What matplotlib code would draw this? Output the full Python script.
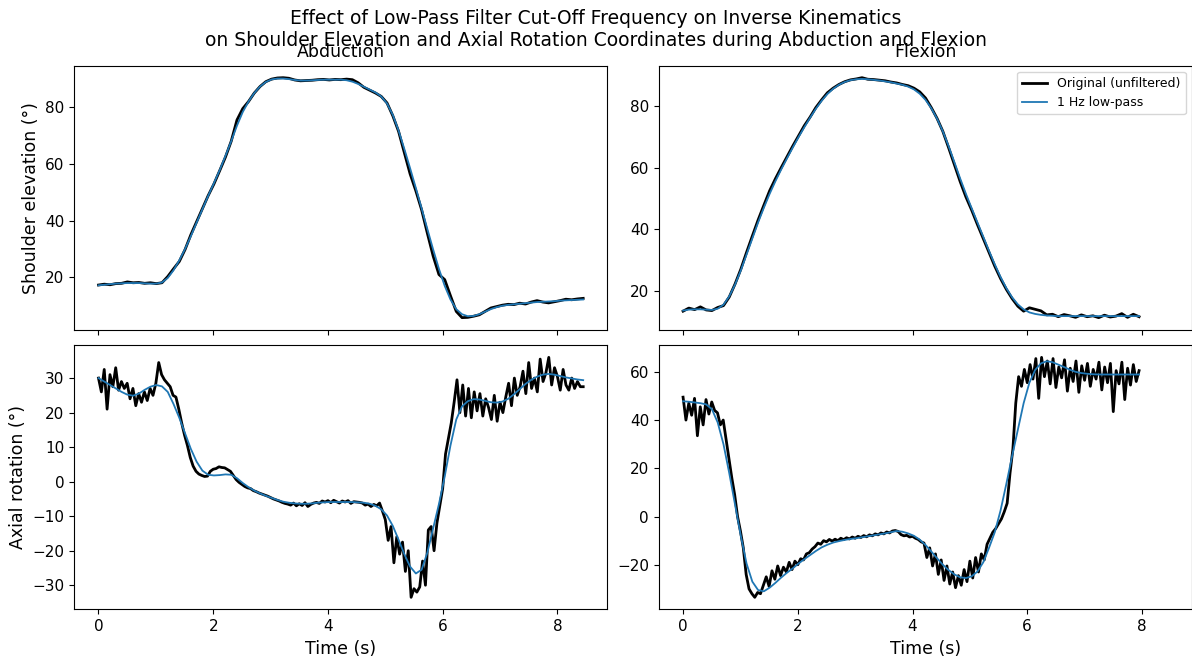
import numpy as np
from matplotlib import pyplot as plt

# abduction: shoulder elevation (deg), raw at ~10 Hz, filtered at ~10 Hz
abd_elev_raw = [17.3, 17.6, 17.4, 17.8, 17.9, 18.4, 18.1, 18.2, 17.9, 18.1,
                17.8, 18.1, 20.3, 23.0, 25.6, 29.8, 35.0, 39.6, 44.2, 48.8,
                52.9, 57.6, 62.4, 68.0, 75.5, 79.5, 82.0, 85.0, 87.3, 89.0,
                89.9, 90.3, 90.4, 90.2, 89.6, 89.3, 89.4, 89.5, 89.7, 89.8,
                89.6, 89.8, 89.7, 89.9, 89.7, 88.6, 87.0, 86.0, 85.0, 83.8,
                81.5, 77.0, 71.5, 64.0, 56.5, 50.5, 43.8, 35.5, 27.5, 21.0,
                19.2, 13.5, 8.0, 5.8, 5.9, 6.3, 6.8, 8.0, 9.2, 9.7,
                10.2, 10.5, 10.4, 10.9, 10.6, 11.3, 11.8, 11.3, 11.0, 11.4,
                11.8, 12.3, 12.1, 12.4, 12.6]
abd_elev_filt = [17.2, 17.4, 17.6, 17.8, 17.9, 18.0, 18.0, 18.0, 17.9, 17.8,
                 17.8, 18.2, 19.8, 22.5, 26.0, 30.0, 34.5, 39.3, 44.0, 48.7,
                 53.2, 57.8, 62.8, 68.0, 73.5, 78.3, 82.0, 85.0, 87.3, 88.9,
                 89.8, 90.1, 90.1, 89.9, 89.6, 89.4, 89.4, 89.5, 89.6, 89.7,
                 89.7, 89.7, 89.7, 89.5, 89.0, 88.2, 87.2, 86.2, 85.2, 83.8,
                 81.3, 77.3, 71.8, 65.3, 58.5, 51.5, 44.3, 37.0, 29.8, 23.0,
                 17.0, 12.2, 8.8, 7.0, 6.3, 6.4, 7.0, 7.9, 8.8, 9.5,
                 10.0, 10.3, 10.5, 10.7, 10.9, 11.1, 11.3, 11.4, 11.5, 11.6,
                 11.8, 11.9, 12.0, 12.1, 12.2]

# flexion: shoulder elevation (deg)
flx_elev_raw = [13.4, 14.4, 13.9, 14.8, 13.8, 13.6, 14.6, 15.2, 18.0, 22.2,
                27.0, 32.5, 37.8, 43.0, 47.8, 52.5, 56.4, 60.0, 63.5, 67.0,
                70.3, 73.6, 76.4, 79.5, 82.0, 84.3, 85.8, 87.0, 87.9, 88.5,
                88.8, 89.2, 88.7, 88.6, 88.4, 88.2, 87.8, 87.5, 87.0, 86.6,
                85.8, 84.6, 82.6, 79.5, 76.0, 71.8, 66.5, 61.0, 55.5, 50.5,
                46.2, 41.5, 37.0, 32.5, 28.0, 24.0, 20.5, 17.5, 15.0, 13.4,
                14.5, 14.0, 13.5, 12.2, 12.4, 11.6, 12.3, 11.9, 11.4, 12.2,
                11.6, 11.9, 11.3, 12.1, 11.5, 11.8, 12.6, 11.4, 12.4, 11.6]
flx_elev_filt = [13.6, 13.9, 14.0, 14.0, 13.9, 13.8, 14.2, 15.5, 18.2, 22.0,
                 26.6, 31.8, 37.0, 42.2, 47.0, 51.5, 55.6, 59.4, 63.0, 66.5,
                 69.9, 73.1, 76.2, 79.1, 81.7, 83.9, 85.6, 86.9, 87.8, 88.4,
                 88.7, 88.8, 88.7, 88.5, 88.3, 88.0, 87.7, 87.3, 86.9, 86.3,
                 85.4, 84.0, 82.0, 79.3, 75.9, 71.8, 67.0, 61.8, 56.5, 51.5,
                 46.8, 42.2, 37.6, 33.0, 28.6, 24.5, 20.9, 17.9, 15.6, 14.0,
                 13.0, 12.5, 12.2, 12.0, 11.9, 11.8, 11.8, 11.8, 11.8, 11.8,
                 11.8, 11.8, 11.8, 11.8, 11.8, 11.8, 11.8, 11.8, 11.8, 11.8]

# abduction: axial rotation (deg), raw at 20 Hz, filtered at ~10 Hz
abd_rot_raw = [30.0, 26.0, 32.5, 21.0, 31.0, 27.5, 33.0, 26.5, 29.0, 27.0,
               28.5, 24.0, 27.0, 22.0, 25.5, 23.0, 26.0, 23.5, 27.0, 25.0,
               28.5, 34.5, 31.0, 29.5, 28.5, 27.5, 25.0, 24.5, 21.0, 17.0,
               13.5, 10.5, 7.0, 4.5, 3.0, 2.2, 1.8, 1.5, 1.6, 3.0,
               3.6, 3.8, 4.3, 4.1, 4.0, 3.5, 3.0, 1.8, 0.6, -0.2,
               -0.8, -1.4, -1.8, -2.0, -2.6, -2.9, -3.3, -3.6, -3.9, -4.2,
               -4.6, -5.0, -5.3, -5.6, -6.0, -6.3, -6.5, -6.8, -6.2, -7.0,
               -6.4, -6.9, -6.1, -7.2, -6.6, -6.2, -6.0, -6.3, -5.6, -5.9,
               -5.5, -6.1, -5.4, -5.8, -6.2, -5.6, -5.9, -5.5, -6.3, -5.8,
               -5.9, -6.0, -6.2, -6.8, -6.5, -7.2, -6.6, -7.0, -6.2, -8.5,
               -11.0, -17.0, -13.0, -23.5, -16.0, -21.0, -17.5, -26.0, -20.0, -33.5,
               -31.0, -32.0, -30.5, -23.0, -30.0, -14.0, -13.0, -20.0, -12.0, -7.0,
               -2.0, 8.0, 12.5, 17.0, 23.0, 29.5, 20.0, 28.0, 19.0, 27.0,
               18.5, 26.0, 20.5, 25.5, 19.0, 24.0, 21.5, 18.0, 25.0, 17.5,
               23.0, 20.0, 24.5, 28.5, 22.0, 30.0, 25.0, 27.5, 32.0, 25.5,
               34.5, 27.0, 30.0, 26.0, 35.5, 29.0, 31.5, 36.0, 28.0, 33.0,
               30.5, 26.5, 32.5, 28.0, 26.5, 30.0, 27.0, 29.0, 27.5, 27.5]
abd_rot_filt = [30.0, 29.0, 28.0, 27.0, 26.0, 25.2, 24.9, 25.5, 26.6, 27.5,
                28.0, 27.6, 26.0, 22.5, 18.5, 14.0, 9.5, 5.8, 3.2, 2.0,
                1.8, 1.9, 2.1, 2.0, 1.0, -0.4, -1.6, -2.6, -3.4, -4.1,
                -4.7, -5.3, -5.8, -6.1, -6.3, -6.4, -6.4, -6.3, -6.1, -6.0,
                -5.9, -5.9, -5.9, -5.9, -5.9, -6.0, -6.1, -6.4, -7.0, -8.0,
                -9.8, -12.8, -16.8, -21.0, -24.6, -26.6, -25.5, -20.5, -13.5, -6.5,
                1.5, 10.5, 18.0, 21.8, 23.3, 23.9, 23.8, 23.4, 23.0, 22.9,
                23.2, 24.0, 25.3, 26.8, 28.3, 29.5, 30.4, 31.0, 31.2, 31.0,
                30.6, 30.2, 29.9, 29.6, 29.4]

# flexion: axial rotation (deg)
flx_rot_raw = [49.5, 40.0, 47.0, 42.0, 49.0, 33.5, 45.5, 38.0, 48.5, 42.5,
               47.5, 44.0, 43.0, 38.0, 40.0, 32.0, 24.0, 16.0, 9.0, 0.0,
               -6.0, -13.0, -24.0, -30.0, -32.0, -33.5, -31.5, -32.0, -28.5, -25.0,
               -29.0, -22.5, -26.0, -20.5, -24.5, -21.0, -23.0, -19.0, -22.0, -18.5,
               -20.0, -17.5, -18.0, -15.5, -15.0, -13.5, -12.5, -11.0, -11.5, -10.0,
               -10.5, -9.5, -10.2, -9.4, -10.0, -9.0, -9.6, -8.8, -9.3, -8.5,
               -9.0, -8.2, -8.7, -7.9, -8.4, -7.6, -8.0, -7.2, -7.6, -6.8,
               -7.2, -6.4, -6.8, -6.0, -5.8, -6.2, -7.5, -8.0, -7.8, -8.5,
               -8.2, -9.0, -9.5, -10.5, -11.0, -17.0, -13.0, -20.5, -15.5, -24.0,
               -18.0, -26.5, -20.5, -28.0, -23.0, -29.5, -24.5, -28.5, -22.0, -27.0,
               -18.5, -25.5, -17.0, -23.0, -15.5, -18.0, -11.5, -9.0, -6.5, -5.0,
               -3.0, -1.0, 2.0, 5.5, 18.0, 28.0, 47.0, 58.0, 54.0, 61.0,
               55.5, 63.0, 57.0, 65.5, 49.0, 66.0, 58.0, 64.5, 55.0, 65.5,
               53.5, 62.0, 57.5, 65.0, 52.0, 61.5, 56.0, 64.5, 51.5, 62.5,
               56.5, 63.5, 54.0, 61.0, 57.0, 64.0, 52.5, 62.0, 55.5, 63.5,
               43.5, 60.5, 55.0, 64.0, 48.5, 61.5, 54.5, 63.0, 56.0, 60.5]
flx_rot_filt = [47.8, 47.6, 47.3, 47.0, 46.5, 44.5, 39.0, 30.0, 18.0, 5.0,
                -8.0, -19.5, -27.0, -30.5, -31.0, -29.5, -27.5, -25.3, -23.3, -21.5,
                -19.5, -17.7, -16.0, -14.3, -12.8, -11.7, -10.8, -10.2, -9.7, -9.3,
                -9.0, -8.6, -8.2, -7.8, -7.4, -7.0, -6.5, -6.0, -6.3, -7.0,
                -8.0, -9.6, -11.8, -14.5, -17.3, -20.0, -22.2, -24.0, -25.2, -25.5,
                -24.8, -22.8, -19.0, -13.0, -6.5, 2.5, 13.5, 25.0, 36.0, 47.0,
                55.5, 60.8, 63.5, 64.4, 64.0, 63.0, 62.0, 60.9, 60.0, 59.5,
                59.2, 59.0, 58.9, 58.9, 58.9, 58.9, 58.9, 58.9, 58.9, 58.9]

abd_end = 8.45
flx_end = 7.95

fig, axes = plt.subplots(2, 2, sharex=True, figsize=(11.92, 6.61), dpi=100)
fig.subplots_adjust(left=0.0623, right=1.0, top=0.9006, bottom=0.0782,
                    wspace=0.0964, hspace=0.0596)

panels = [
    (axes[0, 0], abd_elev_raw, abd_elev_filt, abd_end),
    (axes[0, 1], flx_elev_raw, flx_elev_filt, flx_end),
    (axes[1, 0], abd_rot_raw, abd_rot_filt, abd_end),
    (axes[1, 1], flx_rot_raw, flx_rot_filt, flx_end),
]
for ax, raw, filt, t_end in panels:
    t_raw = np.linspace(0, t_end, len(raw))
    t_filt = np.linspace(0, t_end, len(filt))
    ax.plot(t_raw, raw, color='black', lw=2, label='Original (unfiltered)')
    ax.plot(t_filt, filt, color='#1f77b4', lw=1.3, label='1 Hz low-pass')
    ax.tick_params(labelsize=11)

axes[0, 0].set_title('Abduction', fontsize=12.5)
axes[0, 1].set_title('Flexion', fontsize=12.5)
axes[0, 0].set_ylabel('Shoulder elevation (°)', fontsize=12.5)
axes[1, 0].set_ylabel('Axial rotation (°)', fontsize=12.5)
axes[1, 0].set_xlabel('Time (s)', fontsize=12.5)
axes[1, 1].set_xlabel('Time (s)', fontsize=12.5)
axes[0, 1].legend(loc='upper right', fontsize=9)

fig.suptitle('Effect of Low-Pass Filter Cut-Off Frequency on Inverse Kinematics\n'
             'on Shoulder Elevation and Axial Rotation Coordinates during Abduction and Flexion',
             fontsize=13.5, y=0.986)

plt.savefig('out.png')
